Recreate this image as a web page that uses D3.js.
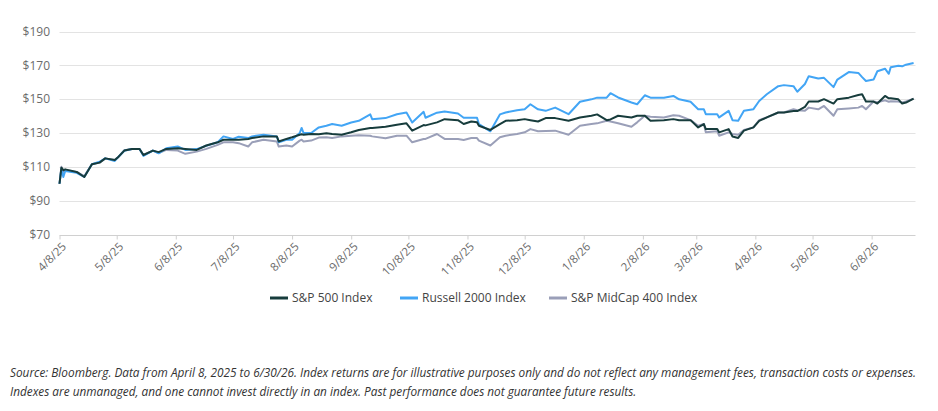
<!DOCTYPE html>
<html>
<head>
<meta charset="utf-8">
<script src="https://cdn.jsdelivr.net/npm/d3@7"></script>
<style>
  html, body { margin: 0; padding: 0; background: #fff; }
  svg { display: block; }
</style>
</head>
<body>
<svg id="chart" width="938" height="411"></svg>
<script>
const dates = ["2025-04-08","2025-04-09","2025-04-10","2025-04-11","2025-04-17","2025-04-21","2025-04-25","2025-04-29","2025-05-02","2025-05-07","2025-05-09","2025-05-12","2025-05-16","2025-05-20","2025-05-22","2025-05-27","2025-05-30","2025-06-03","2025-06-09","2025-06-13","2025-06-19","2025-06-24","2025-06-30","2025-07-03","2025-07-08","2025-07-11","2025-07-16","2025-07-18","2025-07-24","2025-07-31","2025-08-01","2025-08-05","2025-08-08","2025-08-12","2025-08-13","2025-08-14","2025-08-18","2025-08-22","2025-08-26","2025-08-29","2025-09-03","2025-09-08","2025-09-12","2025-09-18","2025-09-19","2025-09-26","2025-10-02","2025-10-07","2025-10-10","2025-10-16","2025-10-17","2025-10-23","2025-10-27","2025-11-03","2025-11-06","2025-11-10","2025-11-13","2025-11-14","2025-11-20","2025-11-25","2025-11-28","2025-12-04","2025-12-08","2025-12-11","2025-12-15","2025-12-19","2025-12-24","2025-12-31","2026-01-06","2026-01-12","2026-01-15","2026-01-20","2026-01-22","2026-01-26","2026-02-02","2026-02-05","2026-02-09","2026-02-12","2026-02-19","2026-02-24","2026-02-27","2026-03-05","2026-03-09","2026-03-12","2026-03-13","2026-03-19","2026-03-20","2026-03-25","2026-03-27","2026-03-30","2026-04-02","2026-04-07","2026-04-10","2026-04-14","2026-04-20","2026-04-23","2026-04-28","2026-04-30","2026-05-04","2026-05-06","2026-05-11","2026-05-14","2026-05-19","2026-05-21","2026-05-27","2026-06-01","2026-06-03","2026-06-05","2026-06-09","2026-06-11","2026-06-15","2026-06-17","2026-06-18","2026-06-22","2026-06-24","2026-06-26","2026-06-30"];

const sp500 = [100,109.5,108,108.5,107,104,111.5,112.5,115,114,116,119.6,120.6,120.5,117,119.6,118.7,120.6,121,120.6,120,122.6,124.5,126,126,126,126.5,127,128,128,125,126.5,127.5,129,129.2,129,129.4,129.3,129.8,129.4,129,130.4,131.8,133,133,133.7,134.9,135.7,131.4,134.7,134.5,136.3,138.2,137.6,135.3,136.8,136.3,134.3,131.8,135.3,137.2,137.6,138.2,137.6,136.8,138.8,138.8,137.2,139.2,140.2,141,137.6,138,140.2,139.2,140.2,140.2,137.2,137.6,138.2,137.6,137.6,133.3,135.3,132.3,132.3,130.4,132.3,127.9,127.1,131.4,133.3,137.2,139.2,142.1,142.1,143,143,145.4,148.6,148.6,150,147.4,150,150.9,152.5,152.9,148.6,148.6,147.4,151.9,150.5,150.5,149.9,147.4,148,150.3];

const russell2000 = [100,109,104,107.5,106.5,104,111.5,113,115,113.5,116,119.5,120.5,120.5,116.5,119.6,118,121,122,120,120.5,122.5,124.5,128,126.5,127.8,127,128,129,128,124.5,126,126,130,133,130,130,133.3,134.3,135.3,134.3,136.2,137.2,141,138.2,138.8,141.1,142.1,136.2,142.5,139,142,142.7,141.5,139,139,139,135.3,131,141,142.1,143.5,144,147,144,143.1,145,141.1,148.5,149.9,150.9,150.9,153.5,151,148,147,152.3,150.9,150.9,151.9,149.9,148.5,144,144,141.1,141.1,139.2,143.1,137.6,137.2,143.1,144.1,148.9,152.9,157.7,158.3,157.7,154.4,159,163.6,162.2,162.6,157.1,161.6,166,165.5,163,160.7,161.6,166.5,168,165,168.9,169.8,169.4,170.4,171.4];

const midcap400 = [100,110,107,108,107,104.5,111.5,112.5,115,114,116,119.8,120.6,120.5,117,119.6,118.2,120,119.6,117.7,119,120.6,123,124.5,124.5,124,122,124.5,126,125,122,122.6,122,125.5,126,125,125.5,127.3,127.5,127,128,128.4,128.6,128.4,128,126.9,128.4,128.4,124.5,126.5,126.5,129.4,126.5,126.5,125.9,127,127,125.5,122.6,127.5,128.4,129.4,130.4,132.3,131,131.2,131.4,129,134.3,135.3,135.7,137.2,136.8,135.8,133.7,136.3,140.2,139.6,139.2,140.5,140.2,137.6,134.3,135.3,130.4,131,128.4,130.4,129.4,129,131.8,133.3,137.6,139.2,142.1,142.1,144.1,143.5,143.1,145,144,146,140.2,144,144.5,145,146,144,148.6,148.2,149.3,148.5,148.8,148.6,148,148.6,150.3];

const yTicks = [70, 90, 110, 130, 150, 170, 190];
const xTickDates = ["2025-04-08","2025-05-08","2025-06-08","2025-07-08","2025-08-08","2025-09-08","2025-10-08","2025-11-08","2025-12-08","2026-01-08","2026-02-08","2026-03-08","2026-04-08","2026-05-08","2026-06-08"];

const seriesNames = ["S&P 500 Index", "Russell 2000 Index", "S&P MidCap 400 Index"];
const seriesColors = ["#173c3c", "#42a5f5", "#9a9fb8"];
const footnote = [
  "Source: Bloomberg. Data from April 8, 2025 to 6/30/26. Index returns are for illustrative purposes only and do not reflect any management fees, transaction costs or expenses.",
  "Indexes are unmanaged, and one cannot invest directly in an index. Past performance does not guarantee future results."
];

(function () {
const parse = d3.utcParse("%Y-%m-%d");
const fmt = d => `${d.getUTCMonth() + 1}/${d.getUTCDate()}/${String(d.getUTCFullYear()).slice(2)}`;
const svg = d3.select("#chart");
const FONT = "'Open Sans', Lato, sans-serif";

const mLeft = 59.5, mRight = 915.5, mTop = 31.5, mBottom = 234.5;
const x = d3.scaleUtc().domain([parse("2025-04-08"), parse("2026-07-01")]).range([mLeft, mRight]);
const y = d3.scaleLinear().domain([70, 190]).range([mBottom, mTop]);

// gridlines
svg.append("g").selectAll("line").data(yTicks.slice(1)).join("line")
  .attr("x1", mLeft).attr("x2", mRight)
  .attr("y1", d => Math.round(y(d)) + 0.5).attr("y2", d => Math.round(y(d)) + 0.5)
  .attr("stroke", "#e3e3e3").attr("stroke-width", 1);

// y labels
svg.append("g").selectAll("text").data(yTicks).join("text")
  .attr("x", 50).attr("y", d => y(d)).attr("dy", "0.35em")
  .attr("text-anchor", "end")
  .attr("font-family", FONT).attr("font-size", 12).attr("fill", "#6b6b6b")
  .text(d => "$" + d);

// x axis
const xAxis = d3.axisBottom(x)
  .tickValues(xTickDates.map(parse))
  .tickFormat(fmt)
  .tickSize(4).tickSizeOuter(0);
const gx = svg.append("g").attr("transform", `translate(0,${Math.round(mBottom) + 0.5})`).call(xAxis);
gx.select(".domain").attr("stroke", "#d0d0d0").attr("d", `M${mLeft},0H${mRight}`);
gx.selectAll(".tick line").attr("stroke", "#d0d0d0");
gx.selectAll(".tick text")
  .attr("font-family", FONT).attr("font-size", 11.5).attr("fill", "#6b6b6b")
  .attr("text-anchor", "end")
  .attr("transform", "rotate(-45)")
  .attr("dx", "-0.3em").attr("dy", "0.55em");

// lines
const parsedDates = dates.map(parse);
const allSeries = [sp500, russell2000, midcap400];
const line = d3.line().x((d, i) => x(parsedDates[i])).y(d => y(d));
const drawOrder = [2, 1, 0];
svg.append("g").selectAll("path").data(drawOrder).join("path")
  .attr("d", k => line(allSeries[k]))
  .attr("fill", "none")
  .attr("stroke", k => seriesColors[k])
  .attr("stroke-width", 2)
  .attr("stroke-linejoin", "round");

// legend
const legendX = [270, 400, 549];
const lg = svg.append("g");
seriesNames.forEach((name, i) => {
  lg.append("line").attr("x1", legendX[i]).attr("x2", legendX[i] + 18)
    .attr("y1", 298).attr("y2", 298)
    .attr("stroke", seriesColors[i]).attr("stroke-width", 3);
  lg.append("text").attr("x", legendX[i] + 22).attr("y", 298).attr("dy", "0.35em")
    .attr("font-family", FONT).attr("font-size", 12).attr("fill", "#444")
    .text(name);
});

// footnote
svg.append("g").selectAll("text").data(footnote).join("text")
  .attr("x", 10).attr("y", (d, i) => 377 + i * 19)
  .attr("font-family", FONT).attr("font-style", "italic")
  .attr("font-size", 11.8).attr("fill", "#333")
  .text(d => d);
})();
</script>
</body>
</html>
